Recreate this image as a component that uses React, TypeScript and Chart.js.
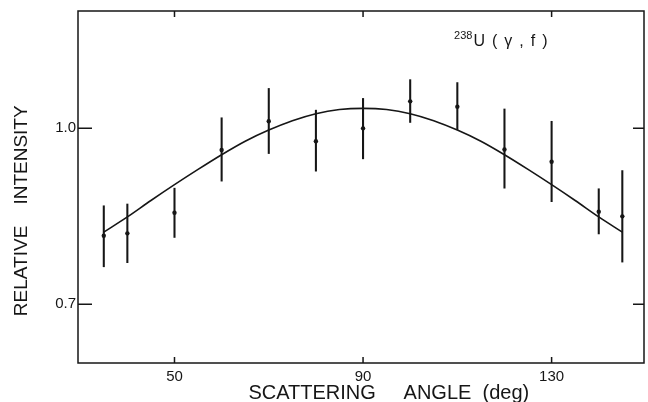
import React, { useEffect, useRef } from "react";
import { Chart, registerables } from "chart.js";

Chart.register(...registerables);

// Measured data points (scattering angle in degrees)
const angles = [35, 40, 50, 60, 70, 80, 90, 100, 110, 120, 130, 140, 145];
const intensity = [0.817, 0.821, 0.856, 0.963, 1.012, 0.978, 1.0, 1.046, 1.037, 0.964, 0.943, 0.858, 0.85];
const errLow = [0.764, 0.771, 0.814, 0.91, 0.957, 0.927, 0.948, 1.01, 0.998, 0.898, 0.875, 0.82, 0.772];
const errHigh = [0.868, 0.871, 0.898, 1.018, 1.068, 1.031, 1.051, 1.083, 1.078, 1.033, 1.012, 0.897, 0.928];

// Fitted curve
const fitAngles = [35, 40, 45, 50, 55, 60, 65, 70, 75, 80, 85, 90, 95, 100, 105, 110, 115, 120, 125, 130, 135, 140, 145];
const fitValues = [0.823, 0.849, 0.877, 0.904, 0.93, 0.955, 0.978, 0.997, 1.013, 1.025, 1.032, 1.034, 1.032, 1.025, 1.013, 0.997, 0.978, 0.955, 0.93, 0.904, 0.877, 0.849, 0.823];

// Axis ticks
const xTicks = [50, 90, 130];
const xTickLabels = ["50", "90", "130"];
const yTicks = [0.7, 1.0];
const yTickLabels = ["0.7", "1.0"];

const xTitle = "          SCATTERING     ANGLE  (deg)";
const yTitle = "RELATIVE    INTENSITY         ";
const annotationMass = "238";
const annotationText = "U(γ,f)";

const INK = "#161616";
const FONT = "'Liberation Sans', Arial, sans-serif";

const frameTicksPlugin = {
  id: "frameTicks",
  afterDatasetsDraw(chart: any) {
    const { ctx, chartArea, scales } = chart;
    const { left, right, top, bottom } = chartArea;
    const x = scales.x;
    const y = scales.y;
    ctx.save();
    ctx.strokeStyle = INK;
    ctx.lineWidth = 1.5;
    ctx.strokeRect(left, top, right - left, bottom - top);
    ctx.beginPath();
    xTicks.forEach((v) => {
      const px = x.getPixelForValue(v);
      ctx.moveTo(px, bottom);
      ctx.lineTo(px, bottom - 6);
      ctx.moveTo(px, top);
      ctx.lineTo(px, top + 6);
    });
    yTicks.forEach((v) => {
      const py = y.getPixelForValue(v);
      ctx.moveTo(left, py);
      ctx.lineTo(left + 14, py);
      ctx.moveTo(right, py);
      ctx.lineTo(right - 11, py);
    });
    ctx.stroke();

    // annotation  238U(γ,f)
    const ax = x.getPixelForValue(109.3);
    const ay = y.getPixelForValue(1.14);
    ctx.fillStyle = INK;
    ctx.textBaseline = "alphabetic";
    ctx.textAlign = "left";
    ctx.font = `11px ${FONT}`;
    ctx.fillText(annotationMass, ax, ay - 7);
    const w = ctx.measureText(annotationMass).width;
    ctx.font = `16px ${FONT}`;
    (ctx as any).letterSpacing = "7px";
    ctx.fillText(annotationText, ax + w + 1, ay);
    (ctx as any).letterSpacing = "0px";
    ctx.restore();
  },
};

export default function App() {
  const canvasRef = useRef<HTMLCanvasElement | null>(null);

  useEffect(() => {
    const canvas = canvasRef.current;
    if (!canvas) return;
    const chart = new Chart(canvas, {
      type: "scatter",
      data: {
        datasets: [
          {
            type: "line",
            label: "fit",
            data: fitAngles.map((a, i) => ({ x: a, y: fitValues[i] })),
            borderColor: INK,
            borderWidth: 1.6,
            pointRadius: 0,
            fill: false,
            cubicInterpolationMode: "monotone",
            order: 3,
          },
          {
            type: "bar",
            label: "error",
            data: angles.map((a, i) => ({ x: a, y: [errLow[i], errHigh[i]] })) as any,
            backgroundColor: INK,
            borderWidth: 0,
            barThickness: 1.4,
            grouped: false,
            order: 2,
          },
          {
            type: "scatter",
            label: "data",
            data: angles.map((a, i) => ({ x: a, y: intensity[i] })),
            backgroundColor: INK,
            borderWidth: 0,
            pointRadius: 2.2,
            order: 1,
          },
        ],
      } as any,
      options: {
        responsive: false,
        animation: false,
        devicePixelRatio: 1,
        layout: { padding: { top: 11, right: 1, left: 0, bottom: 0 } },
        plugins: {
          legend: { display: false },
          tooltip: { enabled: false },
        },
        scales: {
          x: {
            type: "linear",
            min: 29.53,
            max: 149.6,
            offset: false,
            afterBuildTicks: (s: any) => {
              s.ticks = xTicks.map((v) => ({ value: v }));
            },
            afterFit: (s: any) => {
              s.height = 39;
            },
            ticks: {
              autoSkip: false,
              maxRotation: 0,
              padding: 5,
              color: INK,
              font: { family: FONT, size: 15 },
              callback: (v: any) => {
                const i = xTicks.indexOf(Number(v));
                return i >= 0 ? xTickLabels[i] : "";
              },
            },
            grid: { display: false, drawTicks: false },
            border: { display: false },
            title: {
              display: true,
              text: xTitle,
              color: INK,
              font: { family: FONT, size: 20 },
              padding: { top: 0, bottom: -3 },
            },
          },
          y: {
            type: "linear",
            min: 0.6,
            max: 1.2,
            afterBuildTicks: (s: any) => {
              s.ticks = yTicks.map((v) => ({ value: v }));
            },
            afterFit: (s: any) => {
              s.width = 78;
            },
            ticks: {
              autoSkip: false,
              padding: 2,
              color: INK,
              font: { family: FONT, size: 15 },
              callback: (v: any) => {
                const i = yTicks.findIndex((t) => Math.abs(t - Number(v)) < 1e-6);
                return i >= 0 ? yTickLabels[i] : "";
              },
            },
            grid: { display: false, drawTicks: false },
            border: { display: false },
            title: {
              display: true,
              text: yTitle,
              color: INK,
              font: { family: FONT, size: 19 },
              padding: { top: 10, bottom: 0 },
            },
          },
        },
      } as any,
      plugins: [frameTicksPlugin],
    });
    return () => chart.destroy();
  }, []);

  return (
    <div style={{ position: "fixed", left: 0, top: 0, width: 648, height: 402, background: "#fff" }}>
      <canvas ref={canvasRef} width={648} height={402} style={{ display: "block" }} />
    </div>
  );
}
